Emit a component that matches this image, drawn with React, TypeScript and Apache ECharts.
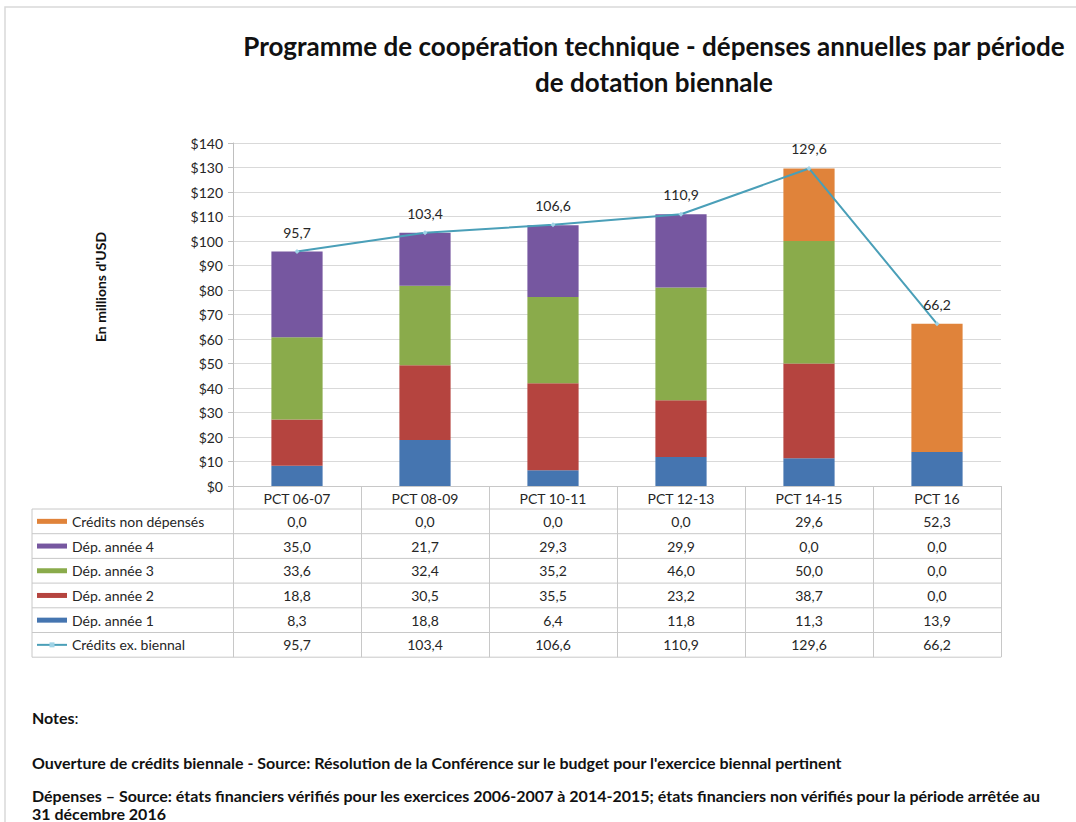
import React, { useEffect, useRef } from "react";
import * as echarts from "echarts";

const categories = ["PCT 06-07", "PCT 08-09", "PCT 10-11", "PCT 12-13", "PCT 14-15", "PCT 16"];
const depAnnee1 = [8.3, 18.8, 6.4, 11.8, 11.3, 13.9];
const depAnnee2 = [18.8, 30.5, 35.5, 23.2, 38.7, 0.0];
const depAnnee3 = [33.6, 32.4, 35.2, 46.0, 50.0, 0.0];
const depAnnee4 = [35.0, 21.7, 29.3, 29.9, 0.0, 0.0];
const creditsNonDepenses = [0.0, 0.0, 0.0, 0.0, 29.6, 52.3];
const creditsBiennal = [95.7, 103.4, 106.6, 110.9, 129.6, 66.2];

const titleLines = [
  "Programme de coopération technique - dépenses annuelles par période",
  "de dotation biennale",
];
const yAxisTitle = "En millions d'USD";
const noteSource = "Ouverture de crédits biennale - Source: Résolution de la Conférence sur le budget pour l'exercice biennal pertinent";
const noteDepensesLines = [
  "Dépenses – Source: états financiers vérifiés pour les exercices 2006-2007 à 2014-2015; états financiers non vérifiés pour la période arrêtée au",
  "31 décembre 2016",
];

const COLORS = {
  a1: "#4575b0",
  a2: "#b5443f",
  a3: "#8aab4b",
  a4: "#7657a0",
  nd: "#e0833a",
  line: "#4a9fb8",
};

const FONT = "Lato, 'Open Sans', sans-serif";
const TXT = "#262626";
const GRIDC = "#d9d9d9";
const TABLEC = "#c8c8c8";

const W = 1076;
const H = 822;
const GL = 233;
const GR = 75;
const GT = 143;
const GB = 336;
const PLOT_BOTTOM = H - GB;
const COLW = (W - GL - GR) / categories.length;
const TABLE_LEFT = 32;
const HEADER_BOTTOM = 509;
const ROWH = 24.7;

const fmt = (v: number) => v.toFixed(1).replace(".", ",");

export default function App() {
  const ref = useRef<HTMLDivElement>(null);
  useEffect(() => {
    if (!ref.current) return;
    const chart = echarts.init(ref.current, undefined, { renderer: "svg" });

    const rows = [
      { name: "Crédits non dépensés", data: creditsNonDepenses, color: COLORS.nd, kind: "bar" },
      { name: "Dép. année 4", data: depAnnee4, color: COLORS.a4, kind: "bar" },
      { name: "Dép. année 3", data: depAnnee3, color: COLORS.a3, kind: "bar" },
      { name: "Dép. année 2", data: depAnnee2, color: COLORS.a2, kind: "bar" },
      { name: "Dép. année 1", data: depAnnee1, color: COLORS.a1, kind: "bar" },
      { name: "Crédits ex. biennal", data: creditsBiennal, color: COLORS.line, kind: "line" },
    ];
    const tableRight = GL + COLW * categories.length;
    const tableBottom = HEADER_BOTTOM + ROWH * rows.length;

    const graphics: any[] = [];
    graphics.push({
      type: "rect",
      shape: { x: 5, y: 7, width: W + 40, height: H + 40 },
      style: { fill: "none", stroke: "#d9d9d9", lineWidth: 1.5 },
      silent: true,
    });
    titleLines.forEach((t, i) => {
      graphics.push({
        type: "text",
        x: 654,
        y: 46 + i * 36,
        style: {
          text: t,
          fill: "#111",
          font: `bold 26px ${FONT}`,
          align: "center",
          verticalAlign: "middle",
        },
      });
    });
    graphics.push({
      type: "text",
      x: 100,
      y: 287,
      rotation: Math.PI / 2,
      style: {
        text: yAxisTitle,
        fill: "#111",
        font: `bold 14px ${FONT}`,
        align: "center",
        verticalAlign: "middle",
      },
    });
    for (let i = 0; i <= rows.length; i++) {
      const y = HEADER_BOTTOM + i * ROWH;
      graphics.push({
        type: "line",
        shape: { x1: TABLE_LEFT, y1: y, x2: tableRight, y2: y },
        style: { stroke: TABLEC, lineWidth: 1 },
        silent: true,
      });
    }
    graphics.push({
      type: "line",
      shape: { x1: TABLE_LEFT, y1: HEADER_BOTTOM, x2: TABLE_LEFT, y2: tableBottom },
      style: { stroke: TABLEC, lineWidth: 1 },
      silent: true,
    });
    rows.forEach((r, ri) => {
      const cy = HEADER_BOTTOM + (ri + 0.5) * ROWH;
      if (r.kind === "bar") {
        graphics.push({
          type: "rect",
          shape: { x: 37, y: cy - 2.5, width: 30, height: 5 },
          style: { fill: r.color },
        });
      } else {
        graphics.push({
          type: "line",
          shape: { x1: 37, y1: cy, x2: 67, y2: cy },
          style: { stroke: r.color, lineWidth: 2 },
        });
        graphics.push({
          type: "rect",
          shape: { x: 49.5, y: cy - 2.5, width: 5, height: 5 },
          style: { fill: "#9fd3e6" },
        });
      }
      graphics.push({
        type: "text",
        x: 72,
        y: cy,
        style: {
          text: r.name,
          fill: TXT,
          font: `14px ${FONT}`,
          align: "left",
          verticalAlign: "middle",
        },
      });
      r.data.forEach((v, ci) => {
        graphics.push({
          type: "text",
          x: GL + (ci + 0.5) * COLW,
          y: cy,
          style: {
            text: fmt(v),
            fill: TXT,
            font: `14px ${FONT}`,
            align: "center",
            verticalAlign: "middle",
          },
        });
      });
    });
    graphics.push({
      type: "text",
      x: 32,
      y: 717,
      style: {
        text: "{b|Notes}:",
        rich: { b: { font: `bold 16px ${FONT}`, fill: "#111" } },
        font: `16px ${FONT}`,
        fill: "#111",
        align: "left",
        verticalAlign: "middle",
      },
    });
    graphics.push({
      type: "text",
      x: 32,
      y: 762,
      style: {
        text: noteSource,
        fill: "#111",
        font: `bold 16px ${FONT}`,
        align: "left",
        verticalAlign: "middle",
      },
    });
    graphics.push({
      type: "text",
      x: 32,
      y: 786,
      style: {
        text: noteDepensesLines.join("\n"),
        fill: "#111",
        font: `bold 16px ${FONT}`,
        lineHeight: 18,
        align: "left",
        verticalAlign: "top",
      },
    });

    const barSeries = [
      { name: "Dép. année 1", data: depAnnee1, color: COLORS.a1 },
      { name: "Dép. année 2", data: depAnnee2, color: COLORS.a2 },
      { name: "Dép. année 3", data: depAnnee3, color: COLORS.a3 },
      { name: "Dép. année 4", data: depAnnee4, color: COLORS.a4 },
      { name: "Crédits non dépensés", data: creditsNonDepenses, color: COLORS.nd },
    ].map((s) => ({
      type: "bar",
      name: s.name,
      stack: "dep",
      data: s.data,
      barWidth: "40%",
      itemStyle: { color: s.color },
      silent: true,
    }));

    chart.setOption({
      animation: false,
      backgroundColor: "#fff",
      grid: { left: GL, right: GR, top: GT, bottom: GB },
      xAxis: {
        type: "category",
        data: categories,
        axisLine: { show: true, lineStyle: { color: TABLEC, width: 1 } },
        axisTick: {
          show: true,
          interval: 0,
          length: tableBottom - PLOT_BOTTOM,
          lineStyle: { color: TABLEC, width: 1 },
        },
        axisLabel: {
          color: TXT,
          fontSize: 14,
          fontFamily: FONT,
          margin: 5,
          interval: 0,
        },
      },
      yAxis: {
        type: "value",
        min: 0,
        max: 140,
        interval: 10,
        axisLine: { show: true, lineStyle: { color: "#bfbfbf" } },
        axisTick: { show: true, length: 5, lineStyle: { color: "#bfbfbf" } },
        axisLabel: {
          color: TXT,
          fontSize: 14,
          fontFamily: FONT,
          margin: 10,
          formatter: (v: number) => `$${v}`,
        },
        splitLine: { lineStyle: { color: GRIDC, width: 1 } },
      },
      series: [
        ...barSeries,
        {
          type: "line",
          name: "Crédits ex. biennal",
          data: creditsBiennal,
          symbol: "diamond",
          symbolSize: 5,
          itemStyle: { color: "#9fd3e6" },
          lineStyle: { color: COLORS.line, width: 2 },
          label: {
            show: true,
            position: "top",
            distance: 10,
            color: TXT,
            fontSize: 14,
            fontFamily: FONT,
            formatter: (p: any) => fmt(p.value),
          },
          z: 5,
        },
      ],
      graphic: graphics,
    });

    return () => chart.dispose();
  }, []);

  return (
    <div
      ref={ref}
      style={{ position: "absolute", left: 0, top: 0, width: W, height: H, background: "#fff" }}
    />
  );
}
